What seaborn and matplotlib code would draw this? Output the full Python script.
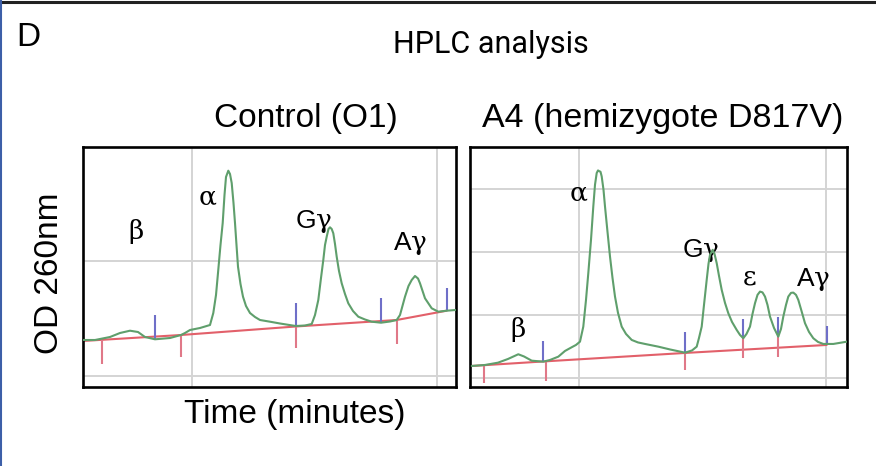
import matplotlib
matplotlib.use("Agg")
import matplotlib.pyplot as plt
from matplotlib.lines import Line2D
import numpy as np
import pandas as pd
import seaborn as sns

# ---------------- data (time in arbitrary minutes, OD in arbitrary units) ----------------
ctrl_time = [0.05, 1.25, 2.75, 3.75, 4.75, 5.55, 6.25, 7.25, 8.75, 9.85, 10.25, 10.75, 11.75, 12.75, 13.08,
             13.35, 13.55, 13.8, 14.02, 14.2, 14.35, 14.58, 14.75, 14.92, 15.1, 15.25, 15.4, 15.55, 15.8, 16.05,
             16.35, 16.75, 17.25, 17.75, 18.75, 19.75, 21.32, 22.25, 22.92, 23.25, 23.58, 23.85, 24.08, 24.25,
             24.42, 24.6, 24.75, 24.92, 25.08, 25.25, 25.42, 25.65, 25.92, 26.25, 26.58, 27.05, 27.58, 28.25,
             28.92, 29.85, 30.75, 31.42, 31.75, 32.25, 32.6, 32.92, 33.25, 33.55, 33.75, 34.25, 34.92, 35.58,
             36.42, 37.3]
ctrl_od = [4.67, 4.67, 4.97, 5.37, 5.6, 5.47, 4.97, 4.74, 4.87, 5.17, 5.37, 5.67, 5.87, 6.17, 7.37,
           9.17, 11.37, 14.17, 16.37, 19.17, 20.97, 21.6, 21.27, 20.37, 18.37, 16.37, 14.17, 12.0, 10.27, 9.0,
           8.07, 7.37, 6.97, 6.67, 6.5, 6.32, 6.07, 6.12, 6.27, 7.17, 8.67, 10.87, 12.67, 14.17,
           15.0, 15.77, 15.94, 15.77, 15.34, 14.27, 13.0, 11.57, 10.34, 9.27, 8.34, 7.57, 7.0, 6.72,
           6.5, 6.4, 6.52, 6.67, 7.17, 9.0, 10.07, 10.67, 11.07, 10.82, 10.34, 8.84, 7.84, 7.5,
           7.6, 7.67]
ctrl_base_time = [0.0, 9.85, 21.32, 31.42, 36.42]
ctrl_base_od = [4.57, 5.17, 6.02, 6.67, 7.6]
ctrl_red_time = [1.92, 9.85, 21.32, 31.42]
ctrl_red_top = [4.67, 5.17, 6.07, 6.67]
ctrl_red_bot = [2.27, 3.0, 3.84, 4.27]
ctrl_blue_time = [7.25, 21.32, 29.85, 36.42]
ctrl_blue_bot = [4.74, 6.07, 6.4, 7.6]
ctrl_blue_top = [7.17, 8.4, 8.87, 9.84]
ctrl_labels = ["β", "α", "Gγ", "Aγ"]
ctrl_label_time = [5.33, 12.55, 23.15, 32.75]
ctrl_label_od = [15.5, 18.8, 16.5, 14.3]
ctrl_vgrid = [10.98, 35.45]
ctrl_hgrid = [1.1, 12.57]

a4_time = [0.17, 1.5, 2.8, 3.8, 4.83, 5.4, 6.17, 7.33, 8.0, 8.83, 9.5, 10.17, 10.6, 11.0, 11.33,
           11.6, 11.83, 12.1, 12.33, 12.5, 12.67, 12.8, 12.93, 13.05, 13.17, 13.35, 13.5, 13.75, 14.0, 14.25,
           14.5, 14.8, 15.17, 15.6, 16.17, 16.8, 17.5, 18.83, 20.0, 21.5, 22.2, 22.67, 22.9, 23.17, 23.4,
           23.67, 23.85, 24.0, 24.27, 24.45, 24.67, 24.9, 25.17, 25.5, 25.83, 26.2, 26.67, 27.0, 27.33, 27.65,
           28.0, 28.25, 28.5, 28.75, 29.0, 29.25, 29.5, 29.75, 30.0, 30.4, 30.83, 31.1, 31.33, 31.6, 31.83,
           32.1, 32.33, 32.6, 32.83, 33.15, 33.5, 33.9, 34.33, 34.8, 35.33, 36.33, 37.7]
a4_od = [2.1, 2.2, 2.43, 2.8, 3.27, 3.05, 2.63, 2.53, 2.7, 3.03, 3.6, 3.97, 4.2, 4.53, 6.03,
         8.7, 11.37, 14.7, 18.03, 20.2, 21.37, 21.63, 21.55, 21.5, 21.03, 19.7, 18.03, 15.5, 13.03, 10.9,
         9.03, 7.4, 6.03, 5.3, 4.7, 4.45, 4.3, 4.03, 3.75, 3.43, 3.65, 4.03, 4.9, 6.03, 8.2,
         10.7, 12.3, 13.2, 13.7, 13.3, 12.37, 11.1, 9.7, 8.4, 7.37, 6.5, 5.7, 5.2, 4.87, 5.3,
         6.03, 7.3, 8.37, 9.2, 9.53, 9.45, 9.03, 8.2, 7.03, 5.9, 5.03, 5.8, 7.03, 8.2, 9.03,
         9.4, 9.43, 9.2, 8.7, 7.6, 6.37, 5.5, 4.87, 4.5, 4.3, 4.3, 4.53]
a4_base_time = [0.17, 7.33, 21.5, 35.67]
a4_base_od = [2.1, 2.55, 3.4, 4.2]
a4_red_time = [1.4, 7.6, 21.5, 27.33, 30.83]
a4_red_top = [2.1, 2.53, 3.43, 4.87, 5.03]
a4_red_bot = [0.37, 0.63, 1.7, 2.87, 2.97]
a4_blue_time = [7.33, 21.5, 27.33, 30.83, 35.67]
a4_blue_bot = [2.53, 3.43, 4.87, 5.03, 4.2]
a4_blue_top = [4.6, 5.47, 6.8, 7.03, 6.13]
a4_labels = ["β", "α", "Gγ", "ε", "Aγ"]
a4_label_time = [4.75, 10.83, 23.08, 27.9, 34.3]
a4_label_od = [5.7, 19.2, 13.6, 10.95, 10.7]
a4_vgrid = [10.9, 35.57]
a4_hgrid = [0.87, 7.2, 13.53, 19.8]

# ---------------- style ----------------
sns.set_theme(style="white")
plt.rcParams["font.family"] = ["Liberation Sans", "DejaVu Sans"]
plt.rcParams["text.color"] = "black"
plt.rcParams["mathtext.fontset"] = "custom"
plt.rcParams["mathtext.rm"] = "DejaVu Serif"
plt.rcParams["mathtext.it"] = "DejaVu Serif:italic"

GREEN = "#5f9f6c"
RED = "#e2606a"
REDTICK = "#e07888"
BLUE = "#6f6fc8"
GRID = "#d4d4d4"

fig = plt.figure(figsize=(8.76, 4.66), dpi=100)
W, H = 876, 466


def px_axes(left, top, right, bottom):
    return fig.add_axes([left / W, 1 - bottom / H, (right - left) / W, (bottom - top) / H])


ax1 = px_axes(82.5, 146.7, 455.5, 386.7)
ax2 = px_axes(470, 146.7, 847, 387)


def greek(s):
    out = ""
    for ch in s:
        if ch in "αβγε":
            name = {"α": r"\alpha", "β": r"\beta", "γ": r"\gamma", "ε": r"\varepsilon"}[ch]
            out += r"$\mathrm{" + name + "}$"
        else:
            out += ch
    return out


def draw_panel(ax, t, od, bt, bo, rt, rtop, rbot, blt, blb, bltop, labels, lx, ly, vg, hg, xmax):
    for v in vg:
        ax.axvline(v, color=GRID, lw=1.4, zorder=0)
    for h in hg:
        ax.axhline(h, color=GRID, lw=1.4, zorder=0)
    sns.lineplot(data=pd.DataFrame({"t": bt, "od": bo}), x="t", y="od", ax=ax,
                 color=RED, lw=1.5, sort=False, zorder=2)
    ax.vlines(rt, rbot, rtop, color=REDTICK, lw=1.5, zorder=3)
    ax.vlines(blt, blb, bltop, color=BLUE, lw=1.5, zorder=3)
    sns.lineplot(data=pd.DataFrame({"t": t, "od": od}), x="t", y="od", ax=ax,
                 color=GREEN, lw=1.5, sort=False, zorder=4)
    for s, x, y in zip(labels, lx, ly):
        ax.text(x, y, greek(s), ha="center", va="center", fontsize=19, color="black")
    ax.set_xlim(0, xmax)
    ax.set_ylim(0, 24)
    ax.set_xticks([])
    ax.set_yticks([])
    ax.set_xlabel("")
    ax.set_ylabel("")
    for sp in ax.spines.values():
        sp.set_visible(True)
        sp.set_color("black")
        sp.set_linewidth(1.9)


draw_panel(ax1, ctrl_time, ctrl_od, ctrl_base_time, ctrl_base_od, ctrl_red_time, ctrl_red_top, ctrl_red_bot,
           ctrl_blue_time, ctrl_blue_bot, ctrl_blue_top, ctrl_labels, ctrl_label_time, ctrl_label_od,
           ctrl_vgrid, ctrl_hgrid, 37.3)
draw_panel(ax2, a4_time, a4_od, a4_base_time, a4_base_od, a4_red_time, a4_red_top, a4_red_bot,
           a4_blue_time, a4_blue_bot, a4_blue_top, a4_labels, a4_label_time, a4_label_od,
           a4_vgrid, a4_hgrid, 37.7)

# ---------------- figure texts ----------------
fig.text(16 / W, 1 - 46 / H, "D", fontsize=24, ha="left", va="baseline")
fig.text(491 / W, 1 - 53 / H, "HPLC analysis", fontsize=22, ha="center", va="baseline",
         family=["Roboto", "DejaVu Sans"])
fig.text(306 / W, 1 - 126.7 / H, "Control (O1)", fontsize=24, ha="center", va="baseline")
fig.text(663 / W, 1 - 126.7 / H, "A4 (hemizygote D817V)", fontsize=24.5, ha="center", va="baseline")
fig.text(295 / W, 1 - 423 / H, "Time (minutes)", fontsize=24, ha="center", va="baseline")
fig.text(50 / W, 1 - 273 / H, "OD 260nm", fontsize=24, ha="center", va="center", rotation=90)

# frame lines of the source figure
fig.add_artist(Line2D([0, 1], [1 - 2 / H, 1 - 2 / H], color="#222222", lw=2.2, transform=fig.transFigure))
fig.add_artist(Line2D([0.6 / W, 0.6 / W], [0, 1], color="#3d5fa8", lw=1.5, transform=fig.transFigure))

fig.savefig("out.png", dpi=100)
